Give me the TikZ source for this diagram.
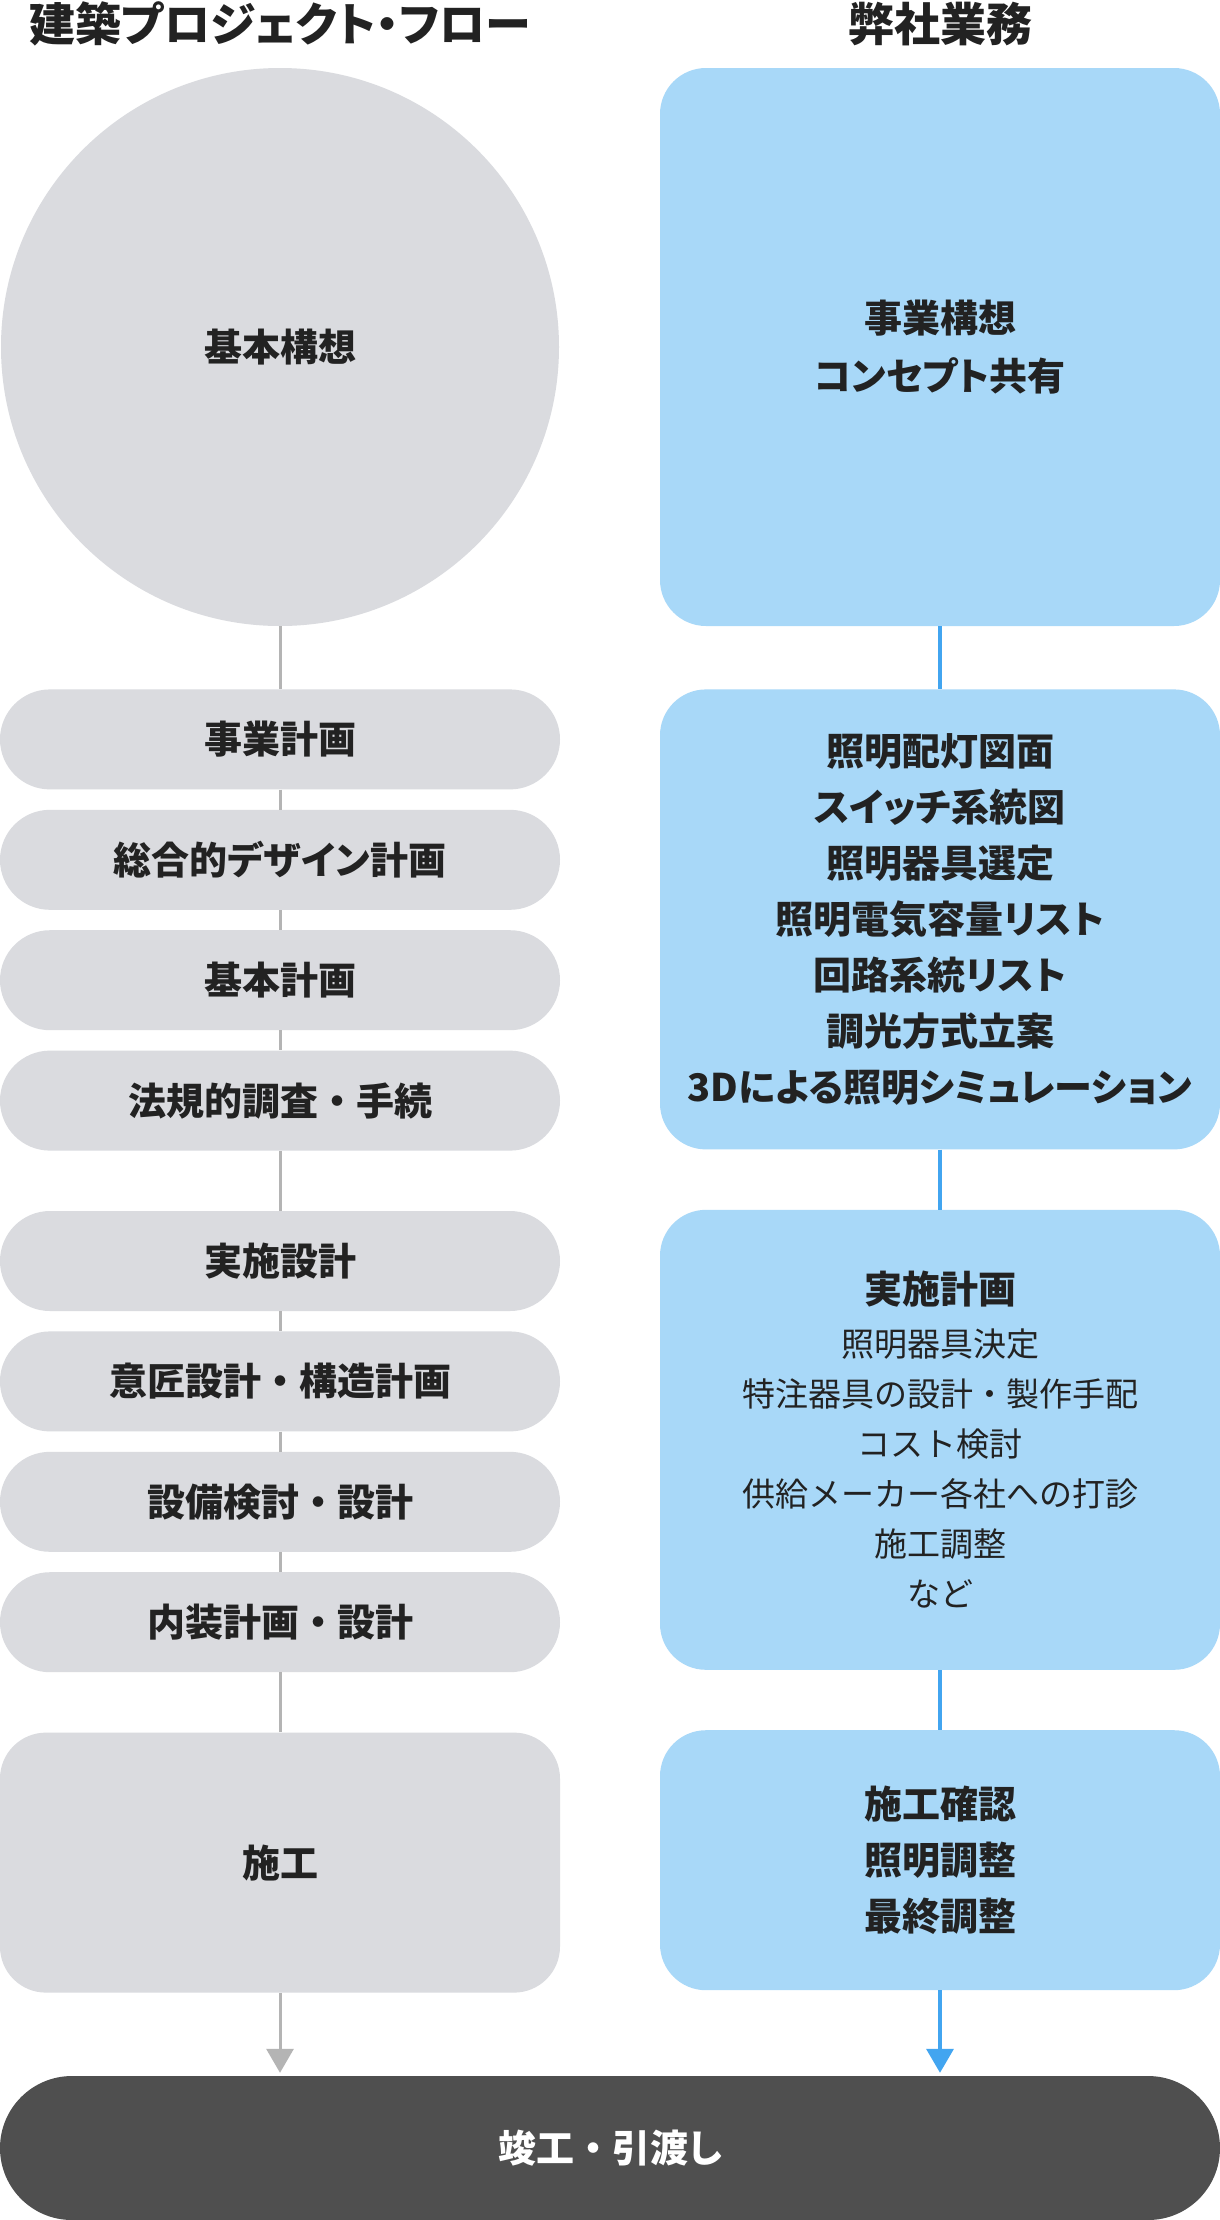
\documentclass[tikz,border=0pt]{standalone}
\usepackage{xcolor}
\usepackage{fontspec}
\usepackage{tikz}
\usetikzlibrary{arrows.meta,positioning}
\newfontfamily\jpbold[RawFeature={+palt}]{Noto Sans CJK JP}
\newfontfamily\jplight{Noto Sans CJK JP}
\newcommand{\fulldot}{{\jplight\bfseries ・}}
\definecolor{ink}{RGB}{34,34,34}
\definecolor{pillgray}{RGB}{218,219,223}
\definecolor{linegray}{RGB}{180,180,180}
\definecolor{paleblue}{RGB}{168,216,248}
\definecolor{lineblue}{RGB}{66,165,240}
\definecolor{darkbar}{RGB}{79,79,79}
\tikzset{
  headtext/.style={text=ink, font=\jpbold\bfseries\fontsize{46}{50}\selectfont},
  phasepill/.style={fill=pillgray, rounded corners=50pt, minimum width=560pt,
    minimum height=100pt, inner sep=0pt, text=ink, align=center,
    font=\jpbold\bfseries\fontsize{38}{56}\selectfont},
  taskbox/.style={fill=paleblue, rounded corners=46pt, minimum width=560pt,
    inner sep=0pt, text=ink, align=center,
    font=\jpbold\bfseries\fontsize{38}{56}\selectfont},
  grayflow/.style={draw=linegray, line width=3pt},
  blueflow/.style={draw=lineblue, line width=3.5pt},
  grayarrow/.style={grayflow, -{Triangle[width=27pt,length=24pt]}, shorten >=3pt},
  bluearrow/.style={blueflow, -{Triangle[width=27pt,length=24pt]}, shorten >=3pt}
}
\begin{document}
\begin{tikzpicture}[x=1pt, y=-1pt]
\useasboundingbox[fill=white] (0,0) rectangle (1220,2220);

% column titles
\node[headtext] (titleL) at (280,24) {建築プロジェクト・フロー};
\node[headtext] (titleR) at (940,24) {弊社業務};

% left column
\node[circle, fill=pillgray, minimum size=558pt, inner sep=0pt, text=ink,
  font=\jpbold\bfseries\fontsize{38}{56}\selectfont] (kihon) at (280,347) {基本構想};
\node[phasepill, below=63pt of kihon] (jigyo) {事業計画};
\node[phasepill, below=20pt of jigyo] (sogo) {総合的デザイン計画};
\node[phasepill, below=20pt of sogo] (kihonkei) {基本計画};
\node[phasepill, below=20pt of kihonkei] (hoki) {法規的調査\fulldot 手続};
\node[phasepill, below=60pt of hoki] (jisshi) {実施設計};
\node[phasepill, below=20pt of jisshi] (isho) {意匠設計\fulldot 構造計画};
\node[phasepill, below=20pt of isho] (setsubi) {設備検討\fulldot 設計};
\node[phasepill, below=20pt of setsubi] (naiso) {内装計画\fulldot 設計};
\node[phasepill, rounded corners=46pt, minimum height=260pt, below=60pt of naiso] (sekou) {施工};

% right column
\node[taskbox, minimum height=558pt, font=\jpbold\bfseries\fontsize{38}{58}\selectfont]
  (concept) at (940,347) {事業構想\\コンセプト共有};
\node[taskbox, minimum height=460pt, below=63pt of concept] (zumen)
  {照明配灯図面\\スイッチ系統図\\照明器具選定\\照明電気容量リスト\\回路系統リスト\\調光方式立案\\3Dによる照明シミュレーション};
\node[taskbox, minimum height=460pt, below=60pt of zumen,
  font=\jplight\fontsize{33}{50}\selectfont] (jisshikei)
  {{\jpbold\bfseries\fontsize{38}{50}\selectfont 実施計画}\\[3pt]照明器具決定\\特注器具の設計・製作手配\\コスト検討\\供給メーカー各社への打診\\施工調整\\など};
\node[taskbox, minimum height=260pt, below=60pt of jisshikei] (kakunin)
  {施工確認\\照明調整\\最終調整};

% goal
\node[fill=darkbar, rounded corners=72pt, minimum width=1220pt, minimum height=144pt,
  inner sep=0pt, text=white, font=\jpbold\bfseries\fontsize{38}{56}\selectfont]
  (kanko) at (610,2148) {竣工\fulldot 引渡し};

% connectors
\draw[grayflow] (kihon) -- (jigyo);
\draw[grayflow] (jigyo) -- (sogo);
\draw[grayflow] (sogo) -- (kihonkei);
\draw[grayflow] (kihonkei) -- (hoki);
\draw[grayflow] (hoki) -- (jisshi);
\draw[grayflow] (jisshi) -- (isho);
\draw[grayflow] (isho) -- (setsubi);
\draw[grayflow] (setsubi) -- (naiso);
\draw[grayflow] (naiso) -- (sekou);
\draw[grayarrow] (sekou) -- (sekou |- kanko.north);

\draw[blueflow] (concept) -- (zumen);
\draw[blueflow] (zumen) -- (jisshikei);
\draw[blueflow] (jisshikei) -- (kakunin);
\draw[bluearrow] (kakunin) -- (kakunin |- kanko.north);
\end{tikzpicture}
\end{document}
